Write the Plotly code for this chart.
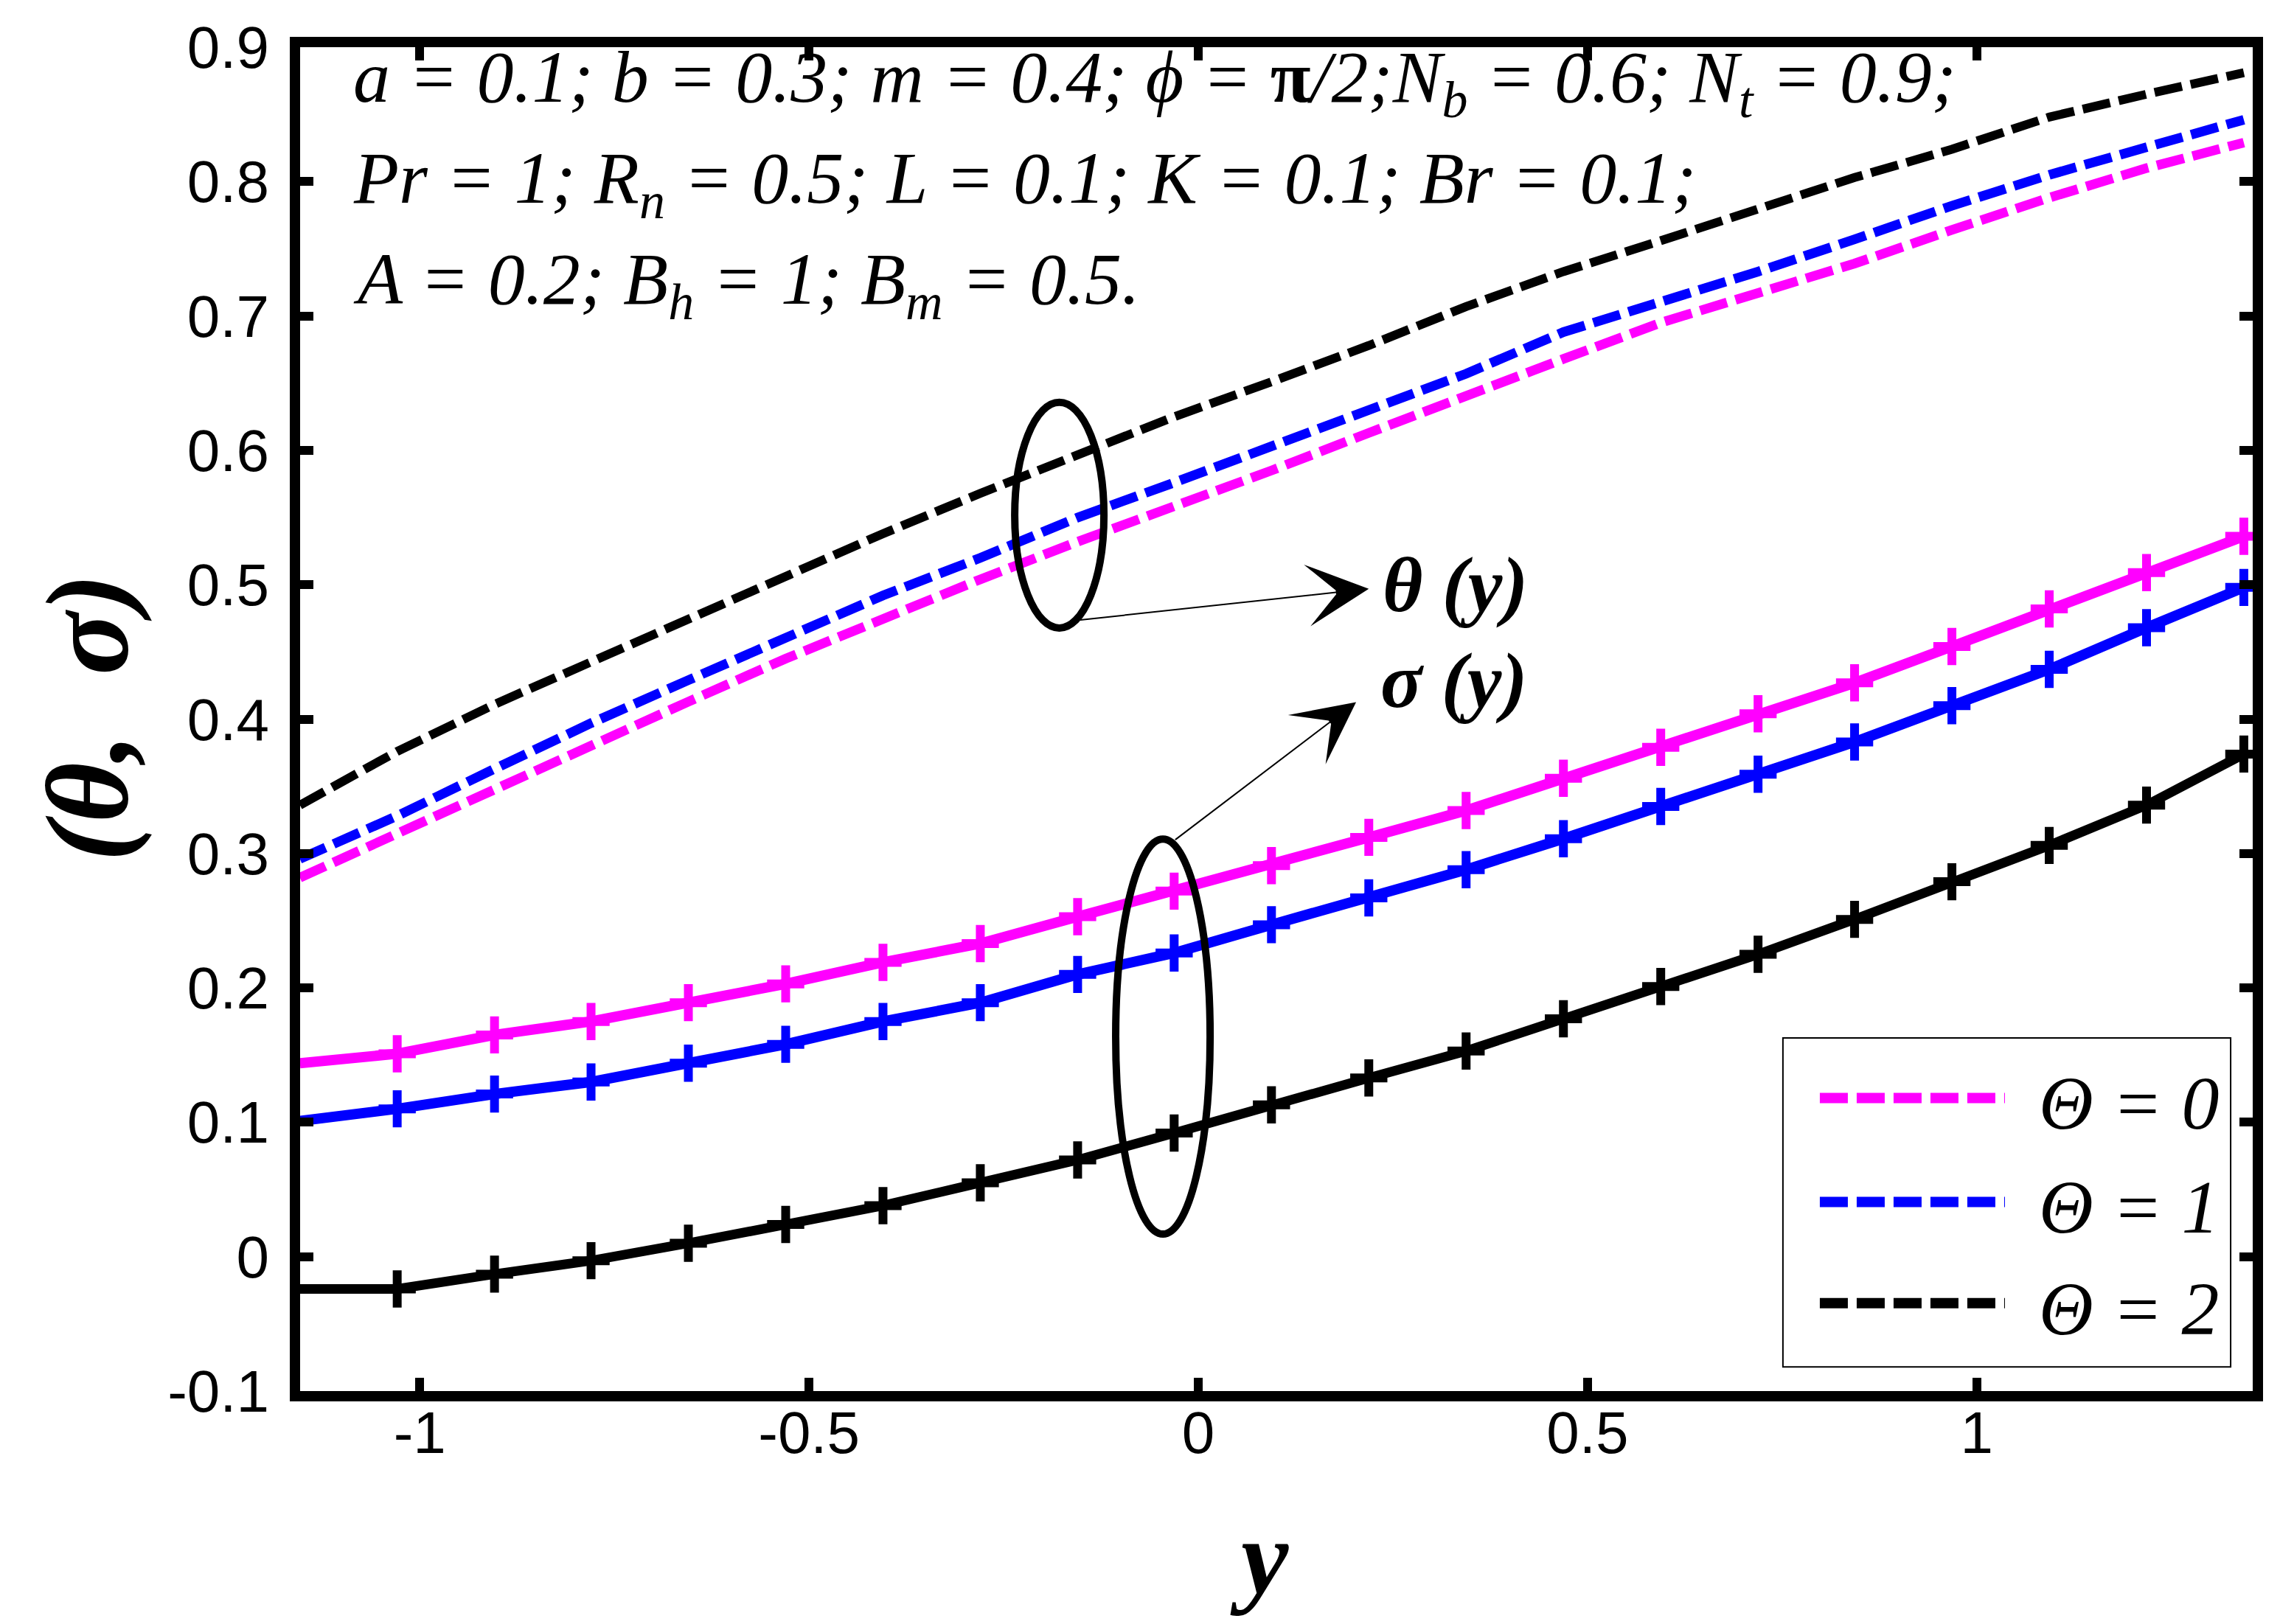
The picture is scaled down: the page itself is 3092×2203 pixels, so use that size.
import plotly.graph_objects as go

# y positions across the channel
y_pts = [-1.154, -1.029, -0.904, -0.780, -0.655, -0.530, -0.405, -0.280,
         -0.155, -0.031, 0.094, 0.219, 0.344, 0.469, 0.594, 0.719,
         0.843, 0.968, 1.093, 1.218, 1.343]

# temperature theta(y), dashed
theta_0 = [0.282, 0.315, 0.349, 0.381, 0.413, 0.445, 0.475, 0.504, 0.532, 0.558, 0.585,
           0.613, 0.641, 0.668, 0.695, 0.717, 0.739, 0.764, 0.788, 0.810, 0.829]
theta_1 = [0.296, 0.328, 0.363, 0.397, 0.429, 0.461, 0.492, 0.520, 0.550, 0.576, 0.603,
           0.630, 0.657, 0.688, 0.710, 0.733, 0.757, 0.782, 0.805, 0.826, 0.846]
theta_2 = [0.336, 0.376, 0.411, 0.443, 0.474, 0.506, 0.538, 0.568, 0.596, 0.625, 0.651,
           0.678, 0.707, 0.733, 0.756, 0.780, 0.803, 0.824, 0.848, 0.865, 0.881]

# concentration sigma(y), solid with + markers
sigma_0 = [0.144, 0.151, 0.165, 0.175, 0.189, 0.203, 0.219, 0.233, 0.253, 0.272, 0.291,
           0.312, 0.332, 0.356, 0.379, 0.404, 0.427, 0.454, 0.482, 0.509, 0.536]
sigma_1 = [0.101, 0.110, 0.121, 0.130, 0.144, 0.158, 0.175, 0.189, 0.210, 0.226, 0.247,
           0.267, 0.288, 0.311, 0.335, 0.359, 0.383, 0.410, 0.437, 0.468, 0.498]
sigma_2 = [-0.024, -0.024, -0.013, -0.003, 0.010, 0.024, 0.038, 0.055, 0.072, 0.092, 0.113,
           0.133, 0.153, 0.177, 0.201, 0.225, 0.251, 0.279, 0.306, 0.336, 0.374]

names = ["Θ = 0", "Θ = 1", "Θ = 2"]
colors = ["#FF00FF", "#0000FF", "#000000"]

x_ticks = [-1, -0.5, 0, 0.5, 1]
x_ticktext = ["-1", "-0.5", "0", "0.5", "1"]
y_ticks = [-0.1, 0, 0.1, 0.2, 0.3, 0.4, 0.5, 0.6, 0.7, 0.8, 0.9]
y_ticktext = ["-0.1", "0", "0.1", "0.2", "0.3", "0.4", "0.5", "0.6", "0.7", "0.8", "0.9"]

SERIF = "Liberation Serif"
SANS = "Liberation Sans"
DASH = "38px,12px"

fig = go.Figure()

thetas = [theta_0, theta_1, theta_2]
sigmas = [sigma_0, sigma_1, sigma_2]
dash_w = [13, 13, 12]
solid_w = [14, 14, 13]

for th, name, col, w in zip(thetas, names, colors, dash_w):
    fig.add_trace(go.Scatter(
        x=y_pts, y=th, mode="lines", name=name, showlegend=False,
        line=dict(color=col, width=w, dash=DASH),
    ))

for sg, name, col, w in zip(sigmas, names, colors, solid_w):
    fig.add_trace(go.Scatter(
        x=y_pts, y=sg, mode="lines+markers", name=name, showlegend=False,
        line=dict(color=col, width=w),
        marker=dict(symbol="cross-thin", size=36, color=col,
                    line=dict(color=col, width=12)),
        cliponaxis=False,
    ))

axis_common = dict(
    showgrid=False, zeroline=False, showline=True, linecolor="black",
    linewidth=14, mirror="ticks", ticks="inside", ticklen=18, tickwidth=12,
    tickcolor="black", tickfont=dict(family=SANS, size=80, color="black"),
)

fig.update_xaxes(range=[-1.1537, 1.3544], tickvals=x_ticks, ticktext=x_ticktext,
                 ticklabelstandoff=-26, **axis_common)
fig.update_yaxes(range=[-0.1, 0.9], tickvals=y_ticks, ticktext=y_ticktext,
                 ticklabelstandoff=12, **axis_common)

# grouping ellipses
fig.add_shape(type="circle", xref="x", yref="y", x0=-0.2358, x1=-0.1212, y0=0.4678, y1=0.6357,
              line=dict(color="black", width=10))
fig.add_shape(type="circle", xref="x", yref="y", x0=-0.1061, x1=0.0152, y0=0.0168, y1=0.3107,
              line=dict(color="black", width=10))

# arrows from ellipses to labels
for (hx, hy, tx, ty) in [(0.219, 0.497, -0.153, 0.4737), (0.2027, 0.4126, -0.031, 0.3096)]:
    fig.add_annotation(x=hx, y=hy, ax=tx, ay=ty, xref="x", yref="y", axref="x", ayref="y",
                       text="", showarrow=True, arrowhead=3, arrowsize=7, arrowwidth=2,
                       arrowcolor="black", standoff=0, startstandoff=0)

fig.add_annotation(x=0.235, y=0.50, xref="x", yref="y", xanchor="left", yanchor="middle",
                   text="<b><i>θ (y)</i></b>", showarrow=False,
                   font=dict(family=SERIF, size=105, color="black"))
fig.add_annotation(x=0.232, y=0.4288, xref="x", yref="y", xanchor="left", yanchor="middle",
                   text="<b><i>σ (y)</i></b>", showarrow=False,
                   font=dict(family=SERIF, size=105, color="black"))

# parameter block
param_lines = [
    "<i>a = 0.1; b = 0.3; m = 0.4; ϕ = </i><b>π</b><i>/2;N<sub>b</sub> = 0.6; N<sub>t</sub> = 0.9;</i>",
    "<i>Pr = 1; R<sub>n</sub> = 0.5; L = 0.1; K = 0.1; Br = 0.1;</i>",
    "<i>A = 0.2; B<sub>h</sub> = 1; B<sub>m</sub> = 0.5.</i>",
]
param_y = [0.974, 0.899, 0.8236]
for txt, py in zip(param_lines, param_y):
    fig.add_annotation(x=0.0264, y=py, xref="paper", yref="paper", xanchor="left",
                       yanchor="middle", text=txt, showarrow=False,
                       font=dict(family=SERIF, size=100, color="black"))

# axis titles
fig.add_annotation(x=0.4913, y=-0.1232, xref="paper", yref="paper", xanchor="center",
                   yanchor="middle", text="<b><i>y</i></b>", showarrow=False,
                   font=dict(family=SERIF, size=145, color="black"))
fig.add_annotation(x=-0.1088, y=0.5014, xref="paper", yref="paper", xanchor="center",
                   yanchor="middle", text="<b><i>(θ,\u00a0\u00a0σ)</i></b>", textangle=-90,
                   showarrow=False, font=dict(family=SERIF, size=158, color="black"))

# legend box drawn by hand so the long dashed samples match the original
fig.add_shape(type="rect", xref="paper", yref="paper", x0=0.7594, x1=0.9887, y0=0.0180, y1=0.2628,
              line=dict(color="black", width=2), fillcolor="white")
legend_rows = [0.2181, 0.1407, 0.0654]
for name, col, ry in zip(names, colors, legend_rows):
    fig.add_shape(type="line", xref="paper", yref="paper", x0=0.7783, x1=0.8731, y0=ry, y1=ry,
                  line=dict(color=col, width=14, dash=DASH))
    fig.add_annotation(x=0.8897, y=ry - 0.004, xref="paper", yref="paper", xanchor="left",
                       yanchor="middle", text="<i>" + name + "</i>", showarrow=False,
                       font=dict(family=SERIF, size=102, color="black"))

fig.update_layout(
    width=3092, height=2203,
    margin=dict(l=399, r=45, t=45, b=324),
    plot_bgcolor="white", paper_bgcolor="white",
    showlegend=False,
)

fig.write_html("out.html")
